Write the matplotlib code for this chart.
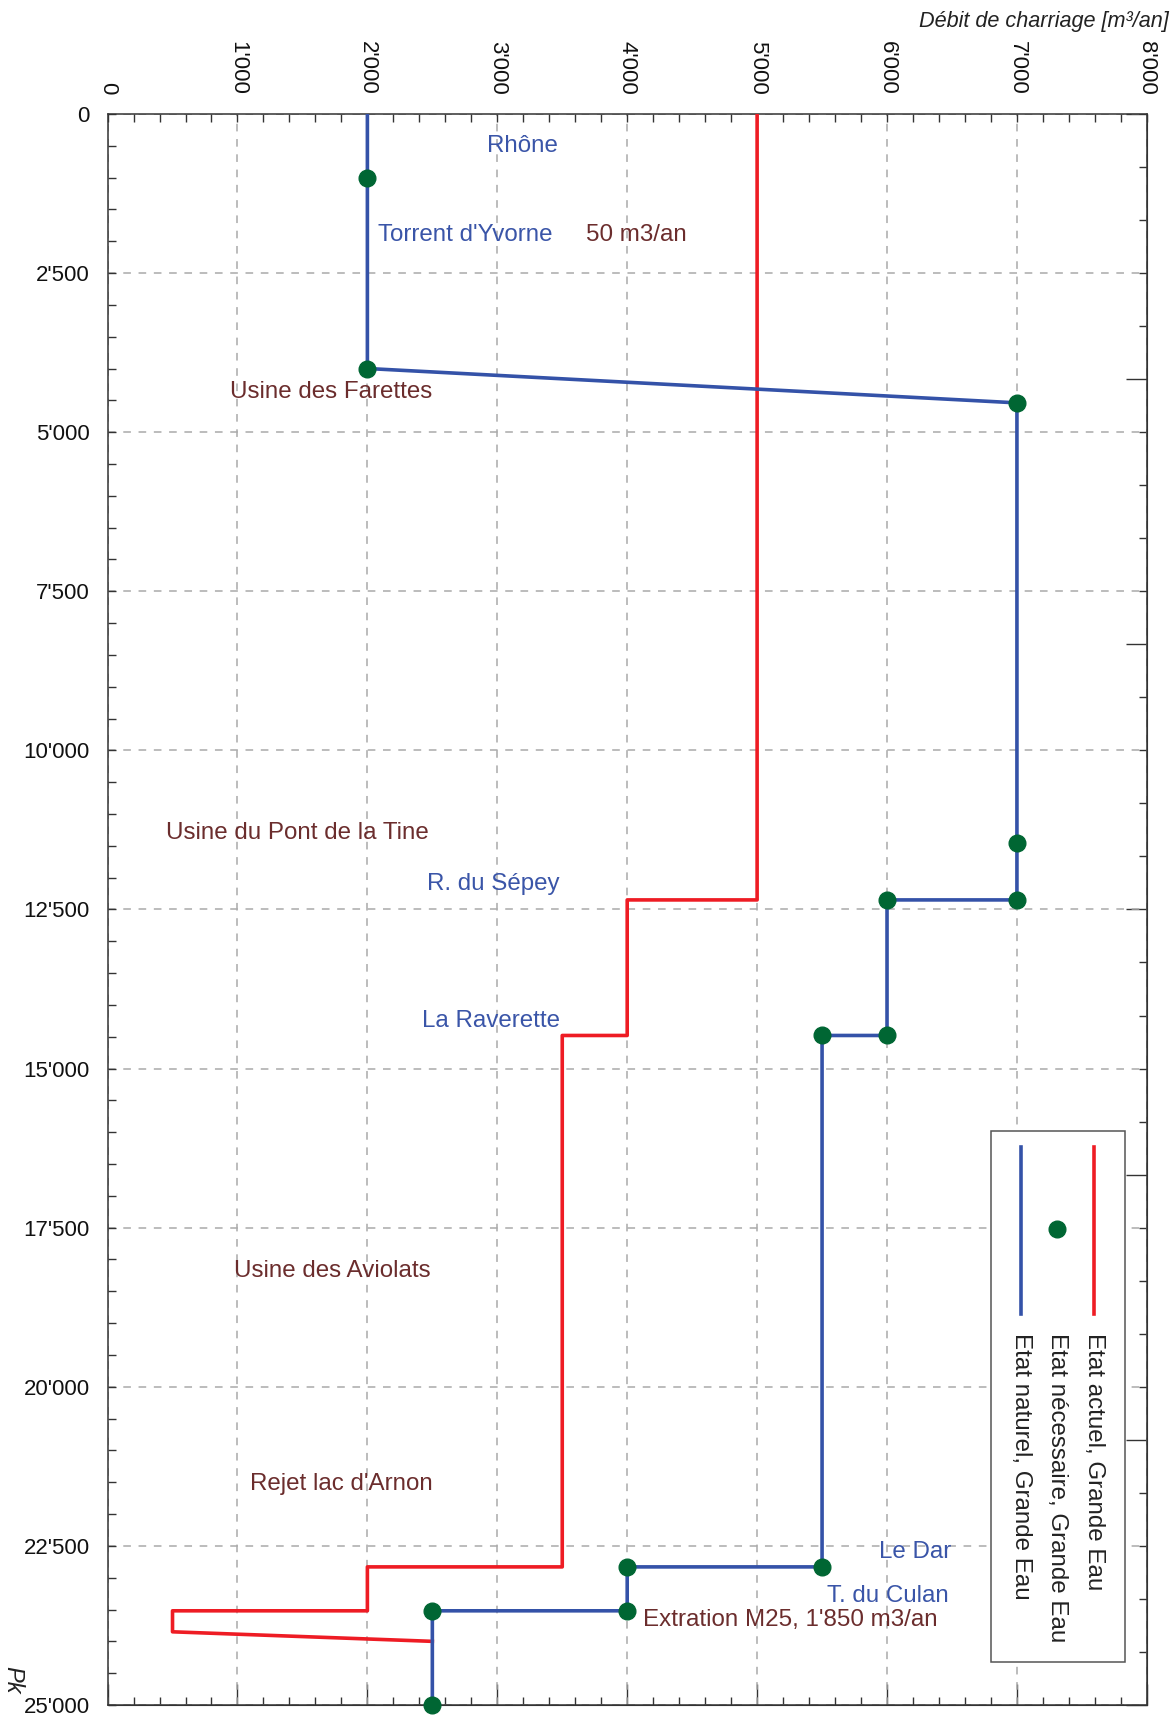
import matplotlib
matplotlib.use("Agg")
import matplotlib.pyplot as plt
from matplotlib.ticker import MultipleLocator, FuncFormatter
from matplotlib.patches import Rectangle

plt.rcParams['font.family'] = ['Liberation Sans', 'DejaVu Sans']

# Etat actuel, Grande Eau (red)
actuel_x = [5000, 5000, 4000, 4000, 3500, 3500, 2000, 2000, 500, 500, 2500]
actuel_pk = [0, 12350, 12350, 14480, 14480, 22830, 22830, 23520, 23520, 23850, 24000]

# Etat naturel, Grande Eau (blue)
naturel_x = [2000, 2000, 7000, 7000, 6000, 6000, 5500, 5500, 4000, 4000, 2500, 2500]
naturel_pk = [0, 4000, 4540, 12350, 12350, 14480, 14480, 22830, 22830, 23520, 23520, 25000]

# Etat nécessaire, Grande Eau (green points)
necess_x = [2000, 2000, 7000, 7000, 7000, 6000, 6000, 5500, 5500, 4000, 4000, 2500, 2500]
necess_pk = [1000, 4000, 4540, 11460, 12350, 12350, 14480, 14480, 22830, 22830, 23520, 23520, 25000]

# annotations: (text, x, pk)
labels_blue = [("Rhône", 2920, 500), ("Torrent d'Yvorne", 2080, 1900),
               ("R. du Sépey", 2460, 12100), ("La Raverette", 2420, 14260),
               ("Le Dar", 5940, 22600), ("T. du Culan", 5540, 23280)]
labels_brown = [("50 m3/an", 3680, 1900), ("Usine des Farettes", 940, 4365),
                ("Usine du Pont de la Tine", 450, 11300), ("Usine des Aviolats", 970, 18180),
                ("Rejet lac d'Arnon", 1100, 21520), ("Extration M25, 1'850 m3/an", 4120, 23660)]

legend_labels = ["Etat actuel, Grande Eau", "Etat nécessaire, Grande Eau", "Etat naturel, Grande Eau"]

RED = "#ee1c24"
BLUE = "#3452a8"
GREEN = "#006633"
BROWN = "#6b2d2d"
TBLUE = "#3a55a8"
FS = 17.4
LW = 2.6
MS = 12

fig = plt.figure(figsize=(11.73, 17.21), dpi=100)
ax = fig.add_axes([0.0917, 0.0093, 0.886, 0.9245])

ax.set_xlim(0, 8000)
ax.set_ylim(25000, 0)

fmt = FuncFormatter(lambda v, p: "0" if v == 0 else f"{int(round(v)):,}".replace(",", "'"))

ax.xaxis.tick_top()
ax.xaxis.set_major_locator(MultipleLocator(1000))
ax.xaxis.set_minor_locator(MultipleLocator(200))
ax.xaxis.set_major_formatter(fmt)
ax.yaxis.set_major_locator(MultipleLocator(2500))
ax.yaxis.set_minor_locator(MultipleLocator(500))
ax.yaxis.set_major_formatter(fmt)

ax.tick_params(axis='x', which='both', direction='in', length=6, width=1, color='#333333',
               labelsize=16, pad=14, labelrotation=270, labelcolor='#111111')
ax.tick_params(axis='y', which='both', direction='in', length=6, width=1, color='#333333',
               labelsize=16, pad=13, labelcolor='#111111')
for lab in ax.get_xticklabels():
    lab.set_va('bottom')

ax.grid(True, which='major', linestyle=(0, (5, 5)), color='#aaaaaa', linewidth=1.1)

for sp in ax.spines.values():
    sp.set_color('#333333')
    sp.set_linewidth(1.1)

# bottom ticks
secx = ax.secondary_xaxis('bottom')
secx.xaxis.set_major_locator(MultipleLocator(1000))
secx.xaxis.set_minor_locator(MultipleLocator(200))
secx.tick_params(axis='x', which='major', direction='in', length=15, width=1, color='#333333', labelbottom=False)
secx.tick_params(axis='x', which='minor', direction='in', length=6, width=1, color='#333333')
secx.spines['bottom'].set_color('#333333')

# right ticks
secy = ax.secondary_yaxis('right')
secy.yaxis.set_major_locator(MultipleLocator(25000 / 6))
secy.yaxis.set_minor_locator(MultipleLocator(25000 / 30))
secy.tick_params(axis='y', which='major', direction='in', length=15, width=1, color='#333333', labelright=False)
secy.tick_params(axis='y', which='minor', direction='in', length=6, width=1, color='#333333')
secy.spines['right'].set_color('#333333')

ax.plot(actuel_x, actuel_pk, color=RED, linewidth=LW, zorder=3)
ax.plot(naturel_x, naturel_pk, color=BLUE, linewidth=LW, zorder=4)
ax.plot(necess_x, necess_pk, linestyle='none', marker='o', markersize=MS,
        color=GREEN, zorder=5, clip_on=False)

for t, x, y in labels_blue:
    ax.text(x, y, t, color=TBLUE, fontsize=FS, ha='left', va='center', zorder=6)
for t, x, y in labels_brown:
    ax.text(x, y, t, color=BROWN, fontsize=FS, ha='left', va='center', zorder=6)

# rotated legend
tr = ax.transAxes
ax.add_patch(Rectangle((0.850, 0.027), 0.129, 0.334, transform=tr, facecolor='white',
                       edgecolor='#555555', linewidth=1.1, zorder=7))
ax.plot([0.949, 0.949], [0.351, 0.246], transform=tr, color=RED, linewidth=LW, zorder=8)
ax.plot([0.914], [0.299], transform=tr, linestyle='none', marker='o', markersize=MS, color=GREEN, zorder=8)
ax.plot([0.879, 0.879], [0.351, 0.246], transform=tr, color=BLUE, linewidth=LW, zorder=8)
for xx, t in zip([0.949, 0.914, 0.879], legend_labels):
    ax.text(xx, 0.234, t, transform=tr, rotation=270, fontsize=FS, ha='center', va='top',
            color='#222222', zorder=8)

fig.text(0.9965, 0.9875, "Débit de charriage [m³/an]", ha='right', va='center',
         fontsize=15.6, style='italic', color='#222222')
fig.text(0.011, 0.024, "Pk", ha='center', va='center', rotation=270,
         fontsize=17, style='italic', color='#222222')

fig.savefig("out.png", dpi=100, facecolor='white')
